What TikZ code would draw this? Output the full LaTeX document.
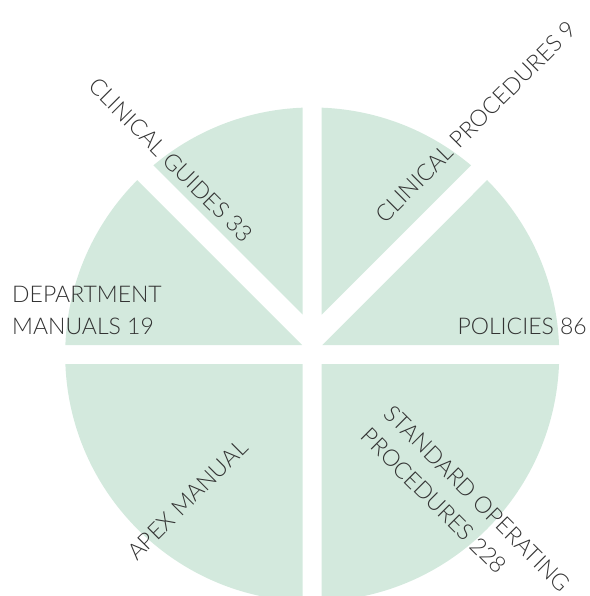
\documentclass[tikz,border=0pt]{standalone}
\usepackage{fontspec}
\IfFontExistsTF{Lato Light}{\setmainfont{Lato Light}}{\setmainfont{Lato}}
\definecolor{pie}{RGB}{211,233,221}
\definecolor{txt}{RGB}{50,50,50}
\begin{document}
\begin{tikzpicture}[x=1pt,y=-1pt,
  lbl/.style={text=txt,font=\fontsize{23}{32}\selectfont,inner sep=0pt,align=left}]
\useasboundingbox (0,0) rectangle (589,596);
\coordinate (C) at (312.2,354.5);
\def\R{247}
% clinical guides
\begin{scope}\clip (302.7,314.7) -- (302.7,-50) -- (-50,-50) -- (-50,-38) -- cycle;
\fill[pie] (C) circle[radius=\R];\end{scope}
% department manuals
\begin{scope}\clip (302,345) -- (-50,345) -- (-50,-7) -- cycle;
\fill[pie] (C) circle[radius=\R];\end{scope}
% clinical procedures
\begin{scope}\clip (321.7,314.7) -- (321.7,-50) -- (686.4,-50) -- cycle;
\fill[pie] (C) circle[radius=\R];\end{scope}
% policies
\begin{scope}\clip (322.4,345) -- (700,345) -- (700,-33) -- cycle;
\fill[pie] (C) circle[radius=\R];\end{scope}
% apex manual
\begin{scope}\clip (-50,364) rectangle (302.7,700);
\fill[pie] (C) circle[radius=\R];\end{scope}
% SOP
\begin{scope}\clip (321.7,364) rectangle (700,700);
\fill[pie] (C) circle[radius=\R];\end{scope}
% labels
\node[lbl,anchor=south west] (dm) at (12,335) {DEPARTMENT\\MANUALS 19};
\node[lbl,anchor=base east] (po) at (587,334) {POLICIES 86};
\node[lbl,rotate=-45] (cg) at (171,160) {CLINICAL GUIDES 33};
\node[lbl,rotate=45] (cp) at (476,122) {CLINICAL PROCEDURES 9};
\node[lbl,rotate=45] (am) at (187.5,500) {APEX MANUAL};
\node[lbl,rotate=-45] (sop) at (466,510) {STANDARD OPERATING\\PROCEDURES 228};
\end{tikzpicture}
\end{document}
